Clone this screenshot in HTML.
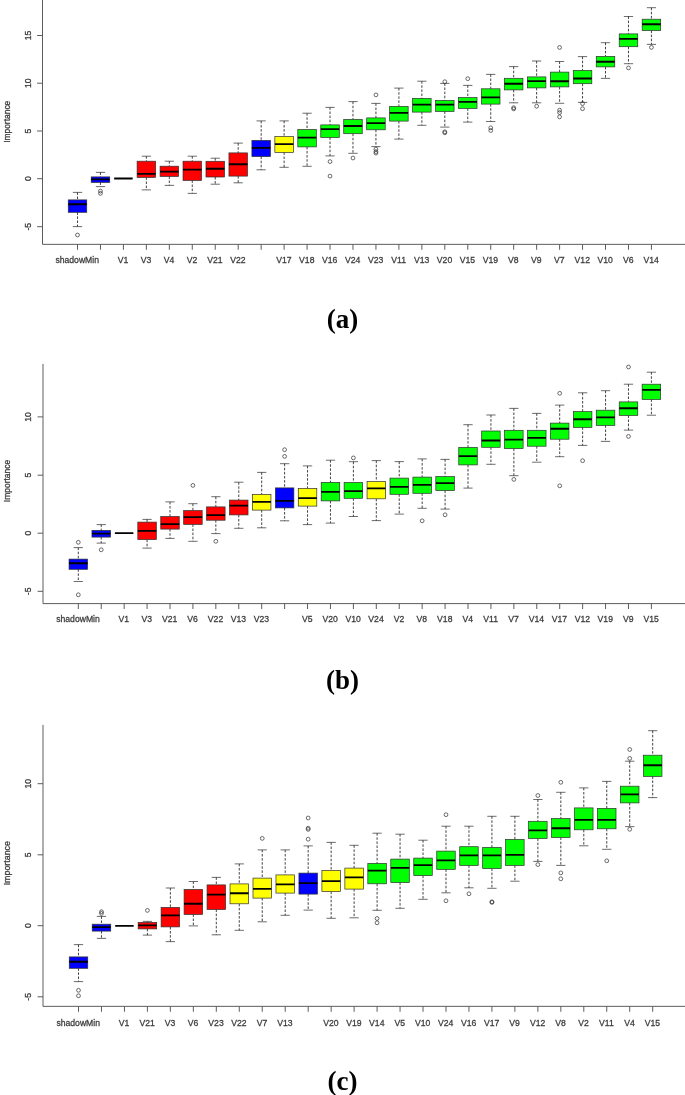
<!DOCTYPE html>
<html><head><meta charset="utf-8"><title>Boruta importance plots</title>
<style>
html,body{margin:0;padding:0;background:#fff}
svg{display:block;font-family:"Liberation Sans",Arial,sans-serif}
</style></head><body>
<svg width="685" height="1095" viewBox="0 0 685 1095">
<defs><filter id="soft" x="0" y="0" width="685" height="1095" filterUnits="userSpaceOnUse"><feGaussianBlur stdDeviation="0.35"/></filter></defs>
<rect width="685" height="1095" fill="#fff"/>
<g filter="url(#soft)">
<path d="M42.5 -2V244.35H690" fill="none" stroke="#5c5c5c" stroke-width="1"/>
<path d="M42.5 35.5h-5.4M42.5 83.2h-5.4M42.5 131h-5.4M42.5 178.7h-5.4M42.5 226.7h-5.4M77.5 244.35v5.4M100.46 244.35v5.4M123.41 244.35v5.4M146.37 244.35v5.4M169.33 244.35v5.4M192.28 244.35v5.4M215.24 244.35v5.4M238.2 244.35v5.4M261.16 244.35v5.4M284.11 244.35v5.4M307.07 244.35v5.4M330.03 244.35v5.4M352.98 244.35v5.4M375.94 244.35v5.4M398.9 244.35v5.4M421.86 244.35v5.4M444.81 244.35v5.4M467.77 244.35v5.4M490.73 244.35v5.4M513.68 244.35v5.4M536.64 244.35v5.4M559.6 244.35v5.4M582.55 244.35v5.4M605.51 244.35v5.4M628.47 244.35v5.4M651.43 244.35v5.4" fill="none" stroke="#5c5c5c" stroke-width="1"/>
<g font-size="9.7" fill="#3c3c3c" stroke="#3c3c3c" stroke-width="0.3" text-anchor="middle">
<text transform="translate(30.7 35.5) rotate(-90) scale(0.89 1)">15</text>
<text transform="translate(30.7 83.2) rotate(-90) scale(0.89 1)">10</text>
<text transform="translate(30.7 131) rotate(-90) scale(0.89 1)">5</text>
<text transform="translate(30.7 178.7) rotate(-90) scale(0.89 1)">0</text>
<text transform="translate(30.7 226.7) rotate(-90) scale(0.89 1)">-5</text>
<text transform="translate(10 121.8) rotate(-90) scale(0.87 1)">Importance</text>
<text transform="translate(77.2 262.7) scale(0.89 1)">shadowMin</text>
<text transform="translate(123.11 262.7) scale(0.89 1)">V1</text>
<text transform="translate(146.07 262.7) scale(0.89 1)">V3</text>
<text transform="translate(169.03 262.7) scale(0.89 1)">V4</text>
<text transform="translate(191.98 262.7) scale(0.89 1)">V2</text>
<text transform="translate(214.94 262.7) scale(0.89 1)">V21</text>
<text transform="translate(237.9 262.7) scale(0.89 1)">V22</text>
<text transform="translate(283.81 262.7) scale(0.89 1)">V17</text>
<text transform="translate(306.77 262.7) scale(0.89 1)">V18</text>
<text transform="translate(329.73 262.7) scale(0.89 1)">V16</text>
<text transform="translate(352.68 262.7) scale(0.89 1)">V24</text>
<text transform="translate(375.64 262.7) scale(0.89 1)">V23</text>
<text transform="translate(398.6 262.7) scale(0.89 1)">V11</text>
<text transform="translate(421.56 262.7) scale(0.89 1)">V13</text>
<text transform="translate(444.51 262.7) scale(0.89 1)">V20</text>
<text transform="translate(467.47 262.7) scale(0.89 1)">V15</text>
<text transform="translate(490.43 262.7) scale(0.89 1)">V19</text>
<text transform="translate(513.38 262.7) scale(0.89 1)">V8</text>
<text transform="translate(536.34 262.7) scale(0.89 1)">V9</text>
<text transform="translate(559.3 262.7) scale(0.89 1)">V7</text>
<text transform="translate(582.25 262.7) scale(0.89 1)">V12</text>
<text transform="translate(605.21 262.7) scale(0.89 1)">V10</text>
<text transform="translate(628.17 262.7) scale(0.89 1)">V6</text>
<text transform="translate(651.13 262.7) scale(0.89 1)">V14</text>
</g>
<path d="M77.5 192.4V199.9M77.5 212.3V226.6M100.46 172.4V176.9M100.46 182.4V186.6M146.37 156.2V161.2M146.37 177.4V189.9M169.33 161.2V166.2M169.33 176.4V185.4M192.28 156.2V161.2M192.28 180.4V193.4M215.24 158.2V161.3M215.24 177V184.2M238.2 143.1V152.9M238.2 176.1V182.8M261.16 120.9V140.4M261.16 156.6V169.8M284.11 120.9V136.6M284.11 152.4V167.3M307.07 113.2V129.6M307.07 146.9V166.3M330.03 107.4V124.9M330.03 137.4V155.9M352.98 101.6V119.4M352.98 133.7V153.3M375.94 103.4V117.9M375.94 129.8V146.6M398.9 88.1V106.4M398.9 121.1V139.1M421.86 81.2V98.4M421.86 112.1V125.3M444.81 83.4V100.4M444.81 111.4V127.1M467.77 85.4V97.6M467.77 108.4V122.1M490.73 74.4V88.8M490.73 104.1V121.5M513.68 66.6V78.3M513.68 89.9V102.8M536.64 61V76.9M536.64 87.9V102.8M559.6 61.5V72.1M559.6 86.9V103.3M582.55 56.6V70.5M582.55 83.7V102.4M605.51 42.7V56.4M605.51 66.9V78.4M628.47 16.5V33.9M628.47 46.7V63.7M651.43 7.7V19.2M651.43 30.5V44.4" fill="none" stroke="#2e2e2e" stroke-width="0.9" stroke-dasharray="2.5 1.6"/>
<g stroke="#2e2e2e" stroke-width="0.7" fill="none"><rect x="68.25" y="199.9" width="18.5" height="12.4" fill="#0000ff"/><path d="M72.88 192.4h9.25M72.88 226.6h9.25"/><rect x="91.21" y="176.9" width="18.5" height="5.5" fill="#0000ff"/><path d="M95.83 172.4h9.25M95.83 186.6h9.25"/><rect x="137.12" y="161.2" width="18.5" height="16.2" fill="#ff0000"/><path d="M141.75 156.2h9.25M141.75 189.9h9.25"/><rect x="160.08" y="166.2" width="18.5" height="10.2" fill="#ff0000"/><path d="M164.7 161.2h9.25M164.7 185.4h9.25"/><rect x="183.03" y="161.2" width="18.5" height="19.2" fill="#ff0000"/><path d="M187.66 156.2h9.25M187.66 193.4h9.25"/><rect x="205.99" y="161.3" width="18.5" height="15.7" fill="#ff0000"/><path d="M210.62 158.2h9.25M210.62 184.2h9.25"/><rect x="228.95" y="152.9" width="18.5" height="23.2" fill="#ff0000"/><path d="M233.57 143.1h9.25M233.57 182.8h9.25"/><rect x="251.91" y="140.4" width="18.5" height="16.2" fill="#0000ff"/><path d="M256.53 120.9h9.25M256.53 169.8h9.25"/><rect x="274.86" y="136.6" width="18.5" height="15.8" fill="#ffff00"/><path d="M279.49 120.9h9.25M279.49 167.3h9.25"/><rect x="297.82" y="129.6" width="18.5" height="17.3" fill="#00ff00"/><path d="M302.44 113.2h9.25M302.44 166.3h9.25"/><rect x="320.78" y="124.9" width="18.5" height="12.5" fill="#00ff00"/><path d="M325.4 107.4h9.25M325.4 155.9h9.25"/><rect x="343.73" y="119.4" width="18.5" height="14.3" fill="#00ff00"/><path d="M348.36 101.6h9.25M348.36 153.3h9.25"/><rect x="366.69" y="117.9" width="18.5" height="11.9" fill="#00ff00"/><path d="M371.32 103.4h9.25M371.32 146.6h9.25"/><rect x="389.65" y="106.4" width="18.5" height="14.7" fill="#00ff00"/><path d="M394.27 88.1h9.25M394.27 139.1h9.25"/><rect x="412.61" y="98.4" width="18.5" height="13.7" fill="#00ff00"/><path d="M417.23 81.2h9.25M417.23 125.3h9.25"/><rect x="435.56" y="100.4" width="18.5" height="11" fill="#00ff00"/><path d="M440.19 83.4h9.25M440.19 127.1h9.25"/><rect x="458.52" y="97.6" width="18.5" height="10.8" fill="#00ff00"/><path d="M463.14 85.4h9.25M463.14 122.1h9.25"/><rect x="481.48" y="88.8" width="18.5" height="15.3" fill="#00ff00"/><path d="M486.1 74.4h9.25M486.1 121.5h9.25"/><rect x="504.43" y="78.3" width="18.5" height="11.6" fill="#00ff00"/><path d="M509.06 66.6h9.25M509.06 102.8h9.25"/><rect x="527.39" y="76.9" width="18.5" height="11" fill="#00ff00"/><path d="M532.01 61h9.25M532.01 102.8h9.25"/><rect x="550.35" y="72.1" width="18.5" height="14.8" fill="#00ff00"/><path d="M554.97 61.5h9.25M554.97 103.3h9.25"/><rect x="573.3" y="70.5" width="18.5" height="13.2" fill="#00ff00"/><path d="M577.93 56.6h9.25M577.93 102.4h9.25"/><rect x="596.26" y="56.4" width="18.5" height="10.5" fill="#00ff00"/><path d="M600.89 42.7h9.25M600.89 78.4h9.25"/><rect x="619.22" y="33.9" width="18.5" height="12.8" fill="#00ff00"/><path d="M623.84 16.5h9.25M623.84 63.7h9.25"/><rect x="642.18" y="19.2" width="18.5" height="11.3" fill="#00ff00"/><path d="M646.8 7.7h9.25M646.8 44.4h9.25"/></g>
<path d="M68.25 204.3h18.5M91.21 179.4h18.5M114.16 178.5h18.5M137.12 173.9h18.5M160.08 171.6h18.5M183.03 169.6h18.5M205.99 168.7h18.5M228.95 164.3h18.5M251.91 147.9h18.5M274.86 144.1h18.5M297.82 137.6h18.5M320.78 129.1h18.5M343.73 126h18.5M366.69 123.1h18.5M389.65 112.9h18.5M412.61 104.6h18.5M435.56 104.6h18.5M458.52 101.9h18.5M481.48 97.4h18.5M504.43 83.8h18.5M527.39 81.1h18.5M550.35 81.2h18.5M573.3 78.5h18.5M596.26 61.7h18.5M619.22 38.9h18.5M642.18 24.2h18.5" fill="none" stroke="#000" stroke-width="1.9"/>
<g stroke="#2e2e2e" stroke-width="0.7" fill="none"><circle cx="77.5" cy="235" r="1.9"/><circle cx="100.46" cy="191.1" r="1.9"/><circle cx="100.46" cy="193.4" r="1.9"/><circle cx="330.03" cy="161.6" r="1.9"/><circle cx="330.03" cy="176.1" r="1.9"/><circle cx="352.98" cy="158" r="1.9"/><circle cx="375.94" cy="94.9" r="1.9"/><circle cx="375.94" cy="149.1" r="1.9"/><circle cx="375.94" cy="151.6" r="1.9"/><circle cx="375.94" cy="153.1" r="1.9"/><circle cx="444.81" cy="81.7" r="1.9"/><circle cx="444.81" cy="131.8" r="1.9"/><circle cx="444.81" cy="132.8" r="1.9"/><circle cx="467.77" cy="78.7" r="1.9"/><circle cx="490.73" cy="127.8" r="1.9"/><circle cx="490.73" cy="130.5" r="1.9"/><circle cx="513.68" cy="107.7" r="1.9"/><circle cx="513.68" cy="108.9" r="1.9"/><circle cx="536.64" cy="106.2" r="1.9"/><circle cx="559.6" cy="47.5" r="1.9"/><circle cx="559.6" cy="110.2" r="1.9"/><circle cx="559.6" cy="112.6" r="1.9"/><circle cx="559.6" cy="116.9" r="1.9"/><circle cx="582.55" cy="103.6" r="1.9"/><circle cx="582.55" cy="108.7" r="1.9"/><circle cx="628.47" cy="67.9" r="1.9"/><circle cx="651.43" cy="47.4" r="1.9"/></g>
<text x="342.4" y="328" text-anchor="middle" font-family="'Liberation Serif',serif" font-weight="bold" font-size="27" fill="#000">(a)</text>
<path d="M43 363.9V603.6H690" fill="none" stroke="#5c5c5c" stroke-width="1"/>
<path d="M43 416.9h-5.4M43 475.2h-5.4M43 533.2h-5.4M43 591.3h-5.4M78.3 603.6v5.4M101.22 603.6v5.4M124.15 603.6v5.4M147.07 603.6v5.4M170 603.6v5.4M192.92 603.6v5.4M215.84 603.6v5.4M238.77 603.6v5.4M261.69 603.6v5.4M284.62 603.6v5.4M307.54 603.6v5.4M330.46 603.6v5.4M353.39 603.6v5.4M376.31 603.6v5.4M399.24 603.6v5.4M422.16 603.6v5.4M445.08 603.6v5.4M468.01 603.6v5.4M490.93 603.6v5.4M513.86 603.6v5.4M536.78 603.6v5.4M559.7 603.6v5.4M582.63 603.6v5.4M605.55 603.6v5.4M628.48 603.6v5.4M651.4 603.6v5.4" fill="none" stroke="#5c5c5c" stroke-width="1"/>
<g font-size="9.7" fill="#3c3c3c" stroke="#3c3c3c" stroke-width="0.3" text-anchor="middle">
<text transform="translate(30.7 416.9) rotate(-90) scale(0.89 1)">10</text>
<text transform="translate(30.7 475.2) rotate(-90) scale(0.89 1)">5</text>
<text transform="translate(30.7 533.2) rotate(-90) scale(0.89 1)">0</text>
<text transform="translate(30.7 591.3) rotate(-90) scale(0.89 1)">-5</text>
<text transform="translate(10.4 481) rotate(-90) scale(0.875 1)">Importance</text>
<text transform="translate(78 622.1) scale(0.89 1)">shadowMin</text>
<text transform="translate(123.85 622.1) scale(0.89 1)">V1</text>
<text transform="translate(146.77 622.1) scale(0.89 1)">V3</text>
<text transform="translate(169.7 622.1) scale(0.89 1)">V21</text>
<text transform="translate(192.62 622.1) scale(0.89 1)">V6</text>
<text transform="translate(215.54 622.1) scale(0.89 1)">V22</text>
<text transform="translate(238.47 622.1) scale(0.89 1)">V13</text>
<text transform="translate(261.39 622.1) scale(0.89 1)">V23</text>
<text transform="translate(307.24 622.1) scale(0.89 1)">V5</text>
<text transform="translate(330.16 622.1) scale(0.89 1)">V20</text>
<text transform="translate(353.09 622.1) scale(0.89 1)">V10</text>
<text transform="translate(376.01 622.1) scale(0.89 1)">V24</text>
<text transform="translate(398.94 622.1) scale(0.89 1)">V2</text>
<text transform="translate(421.86 622.1) scale(0.89 1)">V8</text>
<text transform="translate(444.78 622.1) scale(0.89 1)">V18</text>
<text transform="translate(467.71 622.1) scale(0.89 1)">V4</text>
<text transform="translate(490.63 622.1) scale(0.89 1)">V11</text>
<text transform="translate(513.56 622.1) scale(0.89 1)">V7</text>
<text transform="translate(536.48 622.1) scale(0.89 1)">V14</text>
<text transform="translate(559.4 622.1) scale(0.89 1)">V17</text>
<text transform="translate(582.33 622.1) scale(0.89 1)">V12</text>
<text transform="translate(605.25 622.1) scale(0.89 1)">V19</text>
<text transform="translate(628.18 622.1) scale(0.89 1)">V9</text>
<text transform="translate(651.1 622.1) scale(0.89 1)">V15</text>
</g>
<path d="M78.3 547.6V559.1M78.3 569.3V581.5M101.22 524.6V530.4M101.22 537.1V543.1M147.07 519.4V522.1M147.07 539.6V548.1M170 501.9V516.6M170 529.1V538.4M192.92 503.7V510.6M192.92 524.4V541.3M215.84 496.7V506.9M215.84 520.2V533.6M238.77 482.2V500.1M238.77 514.9V528.3M261.69 472.4V494.4M261.69 510.1V527.8M284.62 463.7V487.9M284.62 507.9V520.8M307.54 465.9V488.4M307.54 506.1V524.6M330.46 460.2V482.4M330.46 500.9V523.1M353.39 461.7V482.5M353.39 498.3V516.5M376.31 460.6V481.6M376.31 498.8V520.6M399.24 461.6V478.1M399.24 494.3V514.1M422.16 458.9V477.1M422.16 493.3V508.3M445.08 459.4V476.6M445.08 490.6V509.1M468.01 424.7V447.4M468.01 464.9V488.1M490.93 415V431M490.93 447.3V464.3M513.86 408.4V430.3M513.86 448.6V475.7M536.78 413.4V430.3M536.78 446.2V462.2M559.7 405.1V423.1M559.7 439.2V456.7M582.63 392.8V411.6M582.63 427.4V445.4M605.55 390.7V410.2M605.55 425.4V441.4M628.48 384.2V401.9M628.48 415.4V430.1M651.4 372.2V384.2M651.4 399.4V415.2" fill="none" stroke="#2e2e2e" stroke-width="0.9" stroke-dasharray="2.5 1.6"/>
<g stroke="#2e2e2e" stroke-width="0.7" fill="none"><rect x="69.05" y="559.1" width="18.5" height="10.2" fill="#0000ff"/><path d="M73.67 547.6h9.25M73.67 581.5h9.25"/><rect x="91.97" y="530.4" width="18.5" height="6.7" fill="#0000ff"/><path d="M96.6 524.6h9.25M96.6 543.1h9.25"/><rect x="137.82" y="522.1" width="18.5" height="17.5" fill="#ff0000"/><path d="M142.45 519.4h9.25M142.45 548.1h9.25"/><rect x="160.75" y="516.6" width="18.5" height="12.5" fill="#ff0000"/><path d="M165.37 501.9h9.25M165.37 538.4h9.25"/><rect x="183.67" y="510.6" width="18.5" height="13.8" fill="#ff0000"/><path d="M188.3 503.7h9.25M188.3 541.3h9.25"/><rect x="206.59" y="506.9" width="18.5" height="13.3" fill="#ff0000"/><path d="M211.22 496.7h9.25M211.22 533.6h9.25"/><rect x="229.52" y="500.1" width="18.5" height="14.8" fill="#ff0000"/><path d="M234.14 482.2h9.25M234.14 528.3h9.25"/><rect x="252.44" y="494.4" width="18.5" height="15.7" fill="#ffff00"/><path d="M257.07 472.4h9.25M257.07 527.8h9.25"/><rect x="275.37" y="487.9" width="18.5" height="20" fill="#0000ff"/><path d="M279.99 463.7h9.25M279.99 520.8h9.25"/><rect x="298.29" y="488.4" width="18.5" height="17.7" fill="#ffff00"/><path d="M302.92 465.9h9.25M302.92 524.6h9.25"/><rect x="321.21" y="482.4" width="18.5" height="18.5" fill="#00ff00"/><path d="M325.84 460.2h9.25M325.84 523.1h9.25"/><rect x="344.14" y="482.5" width="18.5" height="15.8" fill="#00ff00"/><path d="M348.76 461.7h9.25M348.76 516.5h9.25"/><rect x="367.06" y="481.6" width="18.5" height="17.2" fill="#ffff00"/><path d="M371.69 460.6h9.25M371.69 520.6h9.25"/><rect x="389.99" y="478.1" width="18.5" height="16.2" fill="#00ff00"/><path d="M394.61 461.6h9.25M394.61 514.1h9.25"/><rect x="412.91" y="477.1" width="18.5" height="16.2" fill="#00ff00"/><path d="M417.54 458.9h9.25M417.54 508.3h9.25"/><rect x="435.83" y="476.6" width="18.5" height="14" fill="#00ff00"/><path d="M440.46 459.4h9.25M440.46 509.1h9.25"/><rect x="458.76" y="447.4" width="18.5" height="17.5" fill="#00ff00"/><path d="M463.38 424.7h9.25M463.38 488.1h9.25"/><rect x="481.68" y="431" width="18.5" height="16.3" fill="#00ff00"/><path d="M486.31 415h9.25M486.31 464.3h9.25"/><rect x="504.61" y="430.3" width="18.5" height="18.3" fill="#00ff00"/><path d="M509.23 408.4h9.25M509.23 475.7h9.25"/><rect x="527.53" y="430.3" width="18.5" height="15.9" fill="#00ff00"/><path d="M532.15 413.4h9.25M532.15 462.2h9.25"/><rect x="550.45" y="423.1" width="18.5" height="16.1" fill="#00ff00"/><path d="M555.08 405.1h9.25M555.08 456.7h9.25"/><rect x="573.38" y="411.6" width="18.5" height="15.8" fill="#00ff00"/><path d="M578 392.8h9.25M578 445.4h9.25"/><rect x="596.3" y="410.2" width="18.5" height="15.2" fill="#00ff00"/><path d="M600.93 390.7h9.25M600.93 441.4h9.25"/><rect x="619.23" y="401.9" width="18.5" height="13.5" fill="#00ff00"/><path d="M623.85 384.2h9.25M623.85 430.1h9.25"/><rect x="642.15" y="384.2" width="18.5" height="15.2" fill="#00ff00"/><path d="M646.77 372.2h9.25M646.77 415.2h9.25"/></g>
<path d="M69.05 563.3h18.5M91.97 533.6h18.5M114.9 533.1h18.5M137.82 530.9h18.5M160.75 524.1h18.5M183.67 517.1h18.5M206.59 515.1h18.5M229.52 505.6h18.5M252.44 501.9h18.5M275.37 500.9h18.5M298.29 498.1h18.5M321.21 491.9h18.5M344.14 491.1h18.5M367.06 488.4h18.5M389.99 486.9h18.5M412.91 484.9h18.5M435.83 483.1h18.5M458.76 456.1h18.5M481.68 440.5h18.5M504.61 439.6h18.5M527.53 437.9h18.5M550.45 428.8h18.5M573.38 419.3h18.5M596.3 417.4h18.5M619.23 408.2h18.5M642.15 389.9h18.5" fill="none" stroke="#000" stroke-width="1.9"/>
<g stroke="#2e2e2e" stroke-width="0.7" fill="none"><circle cx="78.3" cy="542.3" r="1.9"/><circle cx="78.3" cy="594.8" r="1.9"/><circle cx="101.22" cy="549.8" r="1.9"/><circle cx="192.92" cy="485.4" r="1.9"/><circle cx="215.84" cy="541.3" r="1.9"/><circle cx="284.62" cy="449.7" r="1.9"/><circle cx="284.62" cy="456.4" r="1.9"/><circle cx="353.39" cy="457.9" r="1.9"/><circle cx="422.16" cy="520.8" r="1.9"/><circle cx="445.08" cy="514.8" r="1.9"/><circle cx="513.86" cy="479.4" r="1.9"/><circle cx="559.7" cy="393.3" r="1.9"/><circle cx="559.7" cy="485.8" r="1.9"/><circle cx="582.63" cy="460.7" r="1.9"/><circle cx="628.48" cy="367" r="1.9"/><circle cx="628.48" cy="436.4" r="1.9"/></g>
<text x="342.4" y="689" text-anchor="middle" font-family="'Liberation Serif',serif" font-weight="bold" font-size="27" fill="#000">(b)</text>
<path d="M43 724.9V1006.35H690" fill="none" stroke="#5c5c5c" stroke-width="1"/>
<path d="M43 783.7h-5.4M43 854.8h-5.4M43 925.7h-5.4M43 996.8h-5.4M78.5 1006.35v5.4M101.47 1006.35v5.4M124.44 1006.35v5.4M147.4 1006.35v5.4M170.37 1006.35v5.4M193.34 1006.35v5.4M216.31 1006.35v5.4M239.28 1006.35v5.4M262.24 1006.35v5.4M285.21 1006.35v5.4M308.18 1006.35v5.4M331.15 1006.35v5.4M354.12 1006.35v5.4M377.08 1006.35v5.4M400.05 1006.35v5.4M423.02 1006.35v5.4M445.99 1006.35v5.4M468.96 1006.35v5.4M491.92 1006.35v5.4M514.89 1006.35v5.4M537.86 1006.35v5.4M560.83 1006.35v5.4M583.8 1006.35v5.4M606.76 1006.35v5.4M629.73 1006.35v5.4M652.7 1006.35v5.4" fill="none" stroke="#5c5c5c" stroke-width="1"/>
<g font-size="9.7" fill="#3c3c3c" stroke="#3c3c3c" stroke-width="0.3" text-anchor="middle">
<text transform="translate(30.7 783.7) rotate(-90) scale(0.89 1)">10</text>
<text transform="translate(30.7 854.8) rotate(-90) scale(0.89 1)">5</text>
<text transform="translate(30.7 925.7) rotate(-90) scale(0.89 1)">0</text>
<text transform="translate(30.7 996.8) rotate(-90) scale(0.89 1)">-5</text>
<text transform="translate(10.2 863.2) rotate(-90) scale(0.915 1)">Importance</text>
<text transform="translate(78.2 1025.7) scale(0.89 1)">shadowMin</text>
<text transform="translate(124.14 1025.7) scale(0.89 1)">V1</text>
<text transform="translate(147.1 1025.7) scale(0.89 1)">V21</text>
<text transform="translate(170.07 1025.7) scale(0.89 1)">V3</text>
<text transform="translate(193.04 1025.7) scale(0.89 1)">V6</text>
<text transform="translate(216.01 1025.7) scale(0.89 1)">V23</text>
<text transform="translate(238.98 1025.7) scale(0.89 1)">V22</text>
<text transform="translate(261.94 1025.7) scale(0.89 1)">V7</text>
<text transform="translate(284.91 1025.7) scale(0.89 1)">V13</text>
<text transform="translate(330.85 1025.7) scale(0.89 1)">V20</text>
<text transform="translate(353.82 1025.7) scale(0.89 1)">V19</text>
<text transform="translate(376.78 1025.7) scale(0.89 1)">V14</text>
<text transform="translate(399.75 1025.7) scale(0.89 1)">V5</text>
<text transform="translate(422.72 1025.7) scale(0.89 1)">V10</text>
<text transform="translate(445.69 1025.7) scale(0.89 1)">V24</text>
<text transform="translate(468.66 1025.7) scale(0.89 1)">V16</text>
<text transform="translate(491.62 1025.7) scale(0.89 1)">V17</text>
<text transform="translate(514.59 1025.7) scale(0.89 1)">V9</text>
<text transform="translate(537.56 1025.7) scale(0.89 1)">V12</text>
<text transform="translate(560.53 1025.7) scale(0.89 1)">V8</text>
<text transform="translate(583.5 1025.7) scale(0.89 1)">V2</text>
<text transform="translate(606.46 1025.7) scale(0.89 1)">V11</text>
<text transform="translate(629.43 1025.7) scale(0.89 1)">V4</text>
<text transform="translate(652.4 1025.7) scale(0.89 1)">V15</text>
</g>
<path d="M78.5 944.6V956.9M78.5 968.3V981.6M101.47 916.4V924.2M101.47 931.1V938.4M147.4 921.4V922.4M147.4 928.9V935.1M170.37 888V907.4M170.37 926.9V941.6M193.34 881.5V889.5M193.34 914.4V925.9M216.31 877.4V884.9M216.31 909.5V934.8M239.28 863.9V883.9M239.28 903.8V930.3M262.24 849.9V878.1M262.24 898.1V921.8M285.21 849.9V874.9M285.21 893.1V915.3M308.18 845.9V873.1M308.18 894.1V910.1M331.15 842.4V870.4M331.15 891.6V918.3M354.12 845.3V868.1M354.12 889.1V917.8M377.08 833.2V863.4M377.08 883.8V910.3M400.05 834.2V859.1M400.05 882.6V908.3M423.02 840.2V858.1M423.02 875.6V899.3M445.99 826.2V851.1M445.99 869.4V892.8M468.96 826.2V846.7M468.96 865.4V887.8M491.92 816.3V847.4M491.92 868.5V888.3M514.89 816.3V839.4M514.89 865.4V881.2M537.86 799.5V821.3M537.86 838.5V861.4M560.83 792.3V818.6M560.83 837.5V865.4M583.8 787.9V807.9M583.8 829.8V845.8M606.76 781.4V808.4M606.76 828.8V849.3M629.73 761.2V786.2M629.73 802.9V826.6M652.7 730.7V755.2M652.7 776.4V797.6" fill="none" stroke="#2e2e2e" stroke-width="0.9" stroke-dasharray="2.5 1.6"/>
<g stroke="#2e2e2e" stroke-width="0.7" fill="none"><rect x="69.25" y="956.9" width="18.5" height="11.4" fill="#0000ff"/><path d="M73.88 944.6h9.25M73.88 981.6h9.25"/><rect x="92.22" y="924.2" width="18.5" height="6.9" fill="#0000ff"/><path d="M96.84 916.4h9.25M96.84 938.4h9.25"/><rect x="138.15" y="922.4" width="18.5" height="6.5" fill="#ff0000"/><path d="M142.78 921.4h9.25M142.78 935.1h9.25"/><rect x="161.12" y="907.4" width="18.5" height="19.5" fill="#ff0000"/><path d="M165.75 888h9.25M165.75 941.6h9.25"/><rect x="184.09" y="889.5" width="18.5" height="24.9" fill="#ff0000"/><path d="M188.72 881.5h9.25M188.72 925.9h9.25"/><rect x="207.06" y="884.9" width="18.5" height="24.6" fill="#ff0000"/><path d="M211.68 877.4h9.25M211.68 934.8h9.25"/><rect x="230.03" y="883.9" width="18.5" height="19.9" fill="#ffff00"/><path d="M234.65 863.9h9.25M234.65 930.3h9.25"/><rect x="252.99" y="878.1" width="18.5" height="20" fill="#ffff00"/><path d="M257.62 849.9h9.25M257.62 921.8h9.25"/><rect x="275.96" y="874.9" width="18.5" height="18.2" fill="#ffff00"/><path d="M280.59 849.9h9.25M280.59 915.3h9.25"/><rect x="298.93" y="873.1" width="18.5" height="21" fill="#0000ff"/><path d="M303.56 845.9h9.25M303.56 910.1h9.25"/><rect x="321.9" y="870.4" width="18.5" height="21.2" fill="#ffff00"/><path d="M326.52 842.4h9.25M326.52 918.3h9.25"/><rect x="344.87" y="868.1" width="18.5" height="21" fill="#ffff00"/><path d="M349.49 845.3h9.25M349.49 917.8h9.25"/><rect x="367.83" y="863.4" width="18.5" height="20.4" fill="#00ff00"/><path d="M372.46 833.2h9.25M372.46 910.3h9.25"/><rect x="390.8" y="859.1" width="18.5" height="23.5" fill="#00ff00"/><path d="M395.43 834.2h9.25M395.43 908.3h9.25"/><rect x="413.77" y="858.1" width="18.5" height="17.5" fill="#00ff00"/><path d="M418.39 840.2h9.25M418.39 899.3h9.25"/><rect x="436.74" y="851.1" width="18.5" height="18.3" fill="#00ff00"/><path d="M441.36 826.2h9.25M441.36 892.8h9.25"/><rect x="459.71" y="846.7" width="18.5" height="18.7" fill="#00ff00"/><path d="M464.33 826.2h9.25M464.33 887.8h9.25"/><rect x="482.67" y="847.4" width="18.5" height="21.1" fill="#00ff00"/><path d="M487.3 816.3h9.25M487.3 888.3h9.25"/><rect x="505.64" y="839.4" width="18.5" height="26" fill="#00ff00"/><path d="M510.27 816.3h9.25M510.27 881.2h9.25"/><rect x="528.61" y="821.3" width="18.5" height="17.2" fill="#00ff00"/><path d="M533.24 799.5h9.25M533.24 861.4h9.25"/><rect x="551.58" y="818.6" width="18.5" height="18.9" fill="#00ff00"/><path d="M556.2 792.3h9.25M556.2 865.4h9.25"/><rect x="574.55" y="807.9" width="18.5" height="21.9" fill="#00ff00"/><path d="M579.17 787.9h9.25M579.17 845.8h9.25"/><rect x="597.51" y="808.4" width="18.5" height="20.4" fill="#00ff00"/><path d="M602.14 781.4h9.25M602.14 849.3h9.25"/><rect x="620.48" y="786.2" width="18.5" height="16.7" fill="#00ff00"/><path d="M625.11 761.2h9.25M625.11 826.6h9.25"/><rect x="643.45" y="755.2" width="18.5" height="21.2" fill="#00ff00"/><path d="M648.08 730.7h9.25M648.08 797.6h9.25"/></g>
<path d="M69.25 961.8h18.5M92.22 927.1h18.5M115.19 925.9h18.5M138.15 925.4h18.5M161.12 915.4h18.5M184.09 903.7h18.5M207.06 894.6h18.5M230.03 893.3h18.5M252.99 888.9h18.5M275.96 884.4h18.5M298.93 883.1h18.5M321.9 881.1h18.5M344.87 877.4h18.5M367.83 870.6h18.5M390.8 867.9h18.5M413.77 865.1h18.5M436.74 860.4h18.5M459.71 855.4h18.5M482.67 855.4h18.5M505.64 854.9h18.5M528.61 830.4h18.5M551.58 828.2h18.5M574.55 819.9h18.5M597.51 819.9h18.5M620.48 794.4h18.5M643.45 765.2h18.5" fill="none" stroke="#000" stroke-width="1.9"/>
<g stroke="#2e2e2e" stroke-width="0.7" fill="none"><circle cx="78.5" cy="990.3" r="1.9"/><circle cx="78.5" cy="995.8" r="1.9"/><circle cx="101.47" cy="911.7" r="1.9"/><circle cx="101.47" cy="913.4" r="1.9"/><circle cx="147.4" cy="910.4" r="1.9"/><circle cx="262.24" cy="838.4" r="1.9"/><circle cx="308.18" cy="818" r="1.9"/><circle cx="308.18" cy="828.2" r="1.9"/><circle cx="308.18" cy="829.4" r="1.9"/><circle cx="308.18" cy="839.2" r="1.9"/><circle cx="377.08" cy="918.5" r="1.9"/><circle cx="377.08" cy="922.8" r="1.9"/><circle cx="445.99" cy="814.7" r="1.9"/><circle cx="445.99" cy="900.8" r="1.9"/><circle cx="468.96" cy="893.8" r="1.9"/><circle cx="491.92" cy="901.8" r="1.9"/><circle cx="491.92" cy="902.4" r="1.9"/><circle cx="537.86" cy="795.5" r="1.9"/><circle cx="537.86" cy="864.6" r="1.9"/><circle cx="560.83" cy="782.3" r="1.9"/><circle cx="560.83" cy="872.9" r="1.9"/><circle cx="560.83" cy="878.8" r="1.9"/><circle cx="606.76" cy="860.8" r="1.9"/><circle cx="629.73" cy="749.5" r="1.9"/><circle cx="629.73" cy="758.4" r="1.9"/><circle cx="629.73" cy="829.3" r="1.9"/></g>
<text x="342.4" y="1089.8" text-anchor="middle" font-family="'Liberation Serif',serif" font-weight="bold" font-size="27" fill="#000">(c)</text>
</g>
</svg>
</body></html>
